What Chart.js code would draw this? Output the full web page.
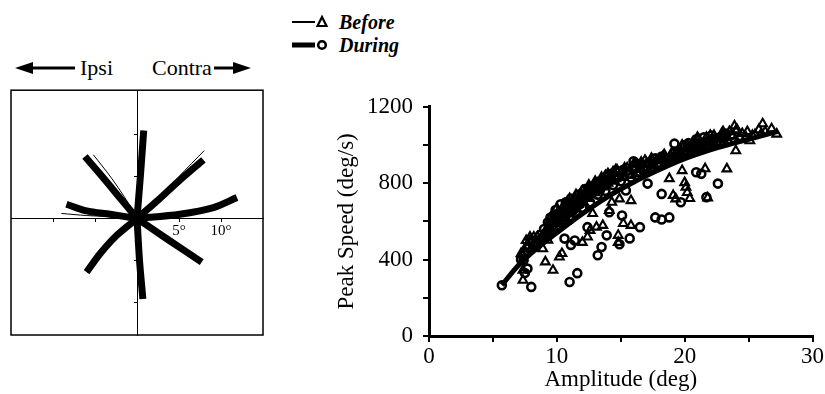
<!DOCTYPE html>
<html>
<head>
<meta charset="utf-8">
<script src="https://cdn.jsdelivr.net/npm/chart.js@4/dist/chart.umd.min.js"></script>
<style>
  body { margin: 0; background: #fff; width: 825px; height: 394px; position: relative; overflow: hidden;
         font-family: "Liberation Serif", "DejaVu Serif", serif; color: #000; }
  .abs { position: absolute; }
  .lbl { font-size: 22px; line-height: 22px; }
  .leg { font-size: 20px; line-height: 20px; font-weight: bold; font-style: italic; }
</style>
</head>
<body>

<!-- legend -->
<svg class="abs" style="left:288px;top:10px" width="50" height="46">
  <line x1="4" y1="12" x2="27" y2="12" stroke="#000" stroke-width="2"/>
  <polygon points="34,7 29.5,16 38.5,16" fill="none" stroke="#000" stroke-width="2.2"/>
  <line x1="4" y1="35" x2="27" y2="35" stroke="#000" stroke-width="5"/>
  <circle cx="34" cy="35" r="3.8" fill="none" stroke="#000" stroke-width="2.6"/>
</svg>
<div class="abs leg" style="left:339px;top:12px">Before</div>
<div class="abs leg" style="left:339px;top:35px">During</div>

<!-- Ipsi / Contra header -->
<svg class="abs" style="left:0;top:54px" width="260" height="30">
  <line x1="30" y1="14" x2="75" y2="14" stroke="#000" stroke-width="3"/>
  <polygon points="15,14 33,8 33,20" fill="#000"/>
  <line x1="214" y1="14" x2="236" y2="14" stroke="#000" stroke-width="3"/>
  <polygon points="251,14 233,8 233,20" fill="#000"/>
</svg>
<div class="abs lbl" style="left:80px;top:57px">Ipsi</div>
<div class="abs lbl" style="left:152px;top:57px">Contra</div>

<canvas id="trajChart" class="abs" style="left:0;top:80px" width="280" height="270"></canvas>
<canvas id="speedChart" class="abs" style="left:330px;top:83px" width="495" height="311"></canvas>

<script>
  "use strict";

  // =========================
  // Trajectories (degrees)
  // =========================
  const TRAJ_DURING = [
    { x: [0, 0.4, 0.8], y: [0, 5, 10.5] },
    { x: [0, 0.3, 0.7], y: [0, -5, -9.6] },
    { x: [0, -2.4, -4.4, -6.2], y: [0, 2.9, 5.3, 7.4] },
    { x: [0, 2.3, 4.9, 7.9], y: [0, 2.0, 4.4, 7.0] },
    { x: [0, -3.2, -6.0, -8.4], y: [0, 0.5, 0.9, 1.7] },
    { x: [0, 5.1, 9.1, 11.9], y: [0, 0.5, 1.3, 2.5] },
    { x: [0, -2.4, -4.4, -6.0], y: [0, -2.0, -4.2, -6.4] },
    { x: [0, 3.8, 7.7], y: [0, -2.6, -5.2] },
  ];
  const TRAJ_BEFORE = [
    { x: [0, 0.3, 0.6], y: [0, 5, 10.3] },
    { x: [0, 0.2, 0.5], y: [0, -5, -9.5] },
    { x: [0, -1.2, -3.1, -5.2], y: [0, 2.1, 4.9, 7.6] },
    { x: [0, 2.5, 5.0, 8.0], y: [0, 2.3, 5.0, 8.1] },
    { x: [0, -2.8, -6.0, -9.0], y: [0, 0.2, 0.35, 0.6] },
    { x: [0, 5.0, 9.0, 11.8], y: [0, 0.4, 1.2, 2.4] },
    { x: [0, -2.3, -4.3, -5.9], y: [0, -2.1, -4.3, -6.5] },
    { x: [0, 3.8, 7.6], y: [0, -2.6, -5.1] },
  ];
  const TRAJ_TICKS = [-10, -5, 5, 10];

  // =========================
  // Peak speed vs amplitude
  // =========================
  const beforeAmp = [
    7.3, 7.6, 7.9, 8.2, 8.5, 8.8, 9.1, 9.3, 9.6, 9.8, 10.0, 10.2, 10.4, 10.6, 10.8, 11.0,
    11.2, 11.4, 11.6, 11.8, 12.0, 12.3, 12.6, 12.9, 13.2, 13.5, 13.8, 14.1, 14.4, 14.7,
    15.0, 15.3, 15.7, 16.1, 16.5, 16.9, 17.4, 17.9, 18.4, 18.9, 19.4, 19.9, 20.2, 20.5,
    20.8, 21.1, 21.4, 21.7, 22.0, 22.3, 22.6, 22.9, 23.2, 23.5, 23.8, 24.1, 24.5, 24.9,
    25.3, 25.8, 26.3, 26.8,
    8.0, 8.6, 9.0, 9.4, 9.8, 10.1, 10.3, 10.5, 10.7, 10.9, 11.1, 11.3, 11.5, 11.7, 11.9,
    12.1, 12.4, 12.7, 13.0, 13.3, 13.7, 14.0, 14.5, 15.2, 15.8, 16.3, 17.0, 17.6, 18.1,
    18.6, 19.1, 19.6, 20.0, 20.3, 20.6, 20.9, 21.2, 21.5, 21.9, 22.2, 22.5, 23.0, 23.4,
    24.3, 24.8, 25.5, 26.0,
    9.5, 10.0, 10.6, 11.0, 11.5, 12.0, 12.5, 13.0, 13.5, 14.0, 14.6, 15.5, 16.0, 16.6,
    17.2, 17.8, 18.3, 19.0, 19.8, 21.0, 22.0, 23.0, 24.0,
    7.35, 7.35, 7.2, 7.9, 7.6, 9.1, 9.7, 10.2, 10.4, 8.9, 9.3, 12.0, 12.6, 12.8, 13.1,
    13.6, 14.3, 14.9, 15.8, 15.2, 15.8, 14.8, 14.8, 17.4, 18.05, 18.8, 19.1, 19.3, 19.8,
    20.0, 20.1, 20.2, 20.4, 21.6, 21.8, 23.3, 23.9, 26.1, 27.2, 24.0, 25.1, 23.0, 12.4,
    14.1, 8.2,
  ];
  const beforeSpeed = [
    430, 470, 500, 480, 520, 510, 550, 560, 600, 590, 640, 620, 660, 680, 650, 700,
    690, 720, 700, 740, 730, 760, 770, 790, 800, 810, 840, 830, 860, 870,
    850, 880, 860, 900, 880, 920, 930, 900, 950, 930, 960, 990, 1000, 980,
    1010, 1030, 1000, 1040, 1020, 1050, 1030, 1060, 1040, 1070, 1050, 1080, 1060, 1070,
    1050, 1080, 1070, 1085,
    460, 500, 520, 540, 570, 590, 600, 630, 620, 650, 660, 680, 670, 690, 710,
    700, 720, 740, 750, 770, 780, 800, 810, 830, 840, 850, 870, 880, 900,
    910, 930, 950, 960, 950, 975, 990, 990, 1010, 1000, 1020, 1010, 1030, 1020,
    1040, 1040, 1055, 1060,
    620, 670, 690, 720, 740, 760, 790, 810, 830, 850, 870, 880, 900, 910,
    900, 920, 940, 960, 1000, 1040, 1050, 1070, 1075,
    292, 344, 431, 518, 500, 388, 344, 414, 432, 457, 501, 490, 553, 641, 570,
    579, 700, 718, 709, 589, 579, 527, 490, 927, 928, 824, 736, 718, 866,
    803, 779, 751, 720, 876, 723, 875, 1100, 1111, 1057, 970, 1022, 1058, 518,
    657, 518,
  ];
  const duringAmp = [
    7.2, 7.5, 7.8, 8.1, 8.4, 8.7, 9.0, 9.3, 9.5, 9.7, 9.9, 10.1, 10.3, 10.5, 10.7, 10.9,
    11.1, 11.3, 11.5, 11.7, 11.9, 12.2, 12.5, 12.8, 13.1, 13.4, 13.7, 14.0, 14.3, 14.6,
    14.9, 15.2, 15.6, 16.0, 16.4, 16.8, 17.2, 17.7, 18.2, 18.7, 19.2, 19.7, 20.0, 20.3,
    20.6, 20.9, 21.2, 21.5, 21.8, 22.1, 22.4, 22.8, 23.2, 23.6,
    8.3, 8.9, 9.2, 9.6, 9.8, 10.0, 10.2, 10.4, 10.6, 10.8, 11.0, 11.2, 11.4, 11.6, 11.8,
    12.0, 12.3, 12.6, 12.9, 13.2, 13.6, 14.2, 14.8, 15.4, 16.2, 17.0, 17.5, 18.0, 18.5,
    19.0, 19.5, 20.1, 20.4, 20.7, 21.0, 21.4, 21.7, 22.0, 22.6, 23.0,
    9.0, 9.4, 10.0, 10.5, 11.0, 11.5, 12.0, 12.6, 13.2, 13.8, 14.4, 15.0, 15.8, 16.5,
    17.4, 18.4, 19.4, 20.5, 21.3, 22.2,
    5.7, 8.0, 7.5, 11.0, 11.6, 9.3, 9.5, 7.7, 7.4, 13.2, 13.5, 13.9, 14.9, 15.1, 15.7,
    16.5, 14.1, 15.4, 17.1, 18.2, 19.7, 20.9, 21.3, 22.6, 21.7, 17.7, 18.2, 18.8, 19.2,
    16.0, 10.6, 11.4, 11.1, 12.4,
  ];
  const duringSpeed = [
    400, 440, 460, 500, 490, 530, 560, 540, 620, 600, 660, 610, 690, 650, 700, 670,
    720, 660, 700, 740, 710, 770, 750, 780, 800, 770, 820, 810, 850, 840,
    860, 870, 850, 890, 900, 870, 910, 930, 940, 920, 960, 950, 990, 1010,
    1000, 1030, 1010, 1040, 1020, 1050, 1030, 1040, 1060, 1050,
    470, 510, 540, 570, 630, 600, 640, 620, 670, 640, 690, 650, 690, 720, 690,
    740, 730, 780, 760, 790, 790, 820, 830, 860, 880, 890, 900, 900, 930,
    940, 960, 970, 990, 980, 990, 1010, 1000, 1030, 1020, 1040,
    520, 580, 560, 600, 610, 640, 670, 700, 740, 760, 790, 810, 830, 860,
    880, 910, 950, 975, 1000, 1010,
    266, 257, 330, 283, 329, 595, 590, 353, 396, 423, 466, 527, 480, 631, 511,
    570, 648, 762, 798, 744, 700, 857, 849, 798, 727, 621, 610, 621, 1007,
    915, 510, 500, 477, 570,
  ];

  // fitted main-sequence curves
  const beforeFitAmp = [7.2, 8.5, 10, 12, 14, 16, 18, 20, 22, 24, 26, 27.3];
  const beforeFitSpeed = [400, 480, 555, 650, 738, 812, 875, 932, 978, 1016, 1050, 1075];
  const duringFitAmp = [5.7, 7.0, 8.5, 10, 12, 14, 16, 18, 20, 22, 24, 26, 27.3];
  const duringFitSpeed = [266, 370, 462, 540, 640, 730, 805, 870, 928, 975, 1012, 1048, 1072];

  const X_TICKS = [0, 10, 20, 30];
  const Y_TICKS = [0, 400, 800, 1200];

  const toPoints = (xs, ys) => xs.map((x, i) => ({ x, y: ys[i] }));
  const FONT = '"Liberation Serif", "DejaVu Serif", serif';

  // ---------- trajectory panel ----------
  const boxPlugin = {
    id: "box",
    afterDraw(chart) {
      const { ctx, chartArea: a } = chart;
      ctx.save();
      ctx.strokeStyle = "#000";
      ctx.lineWidth = 1.5;
      ctx.strokeRect(a.left, a.top, a.right - a.left, a.bottom - a.top);
      ctx.restore();
    },
  };

  const trajDatasets = [];
  TRAJ_DURING.forEach((t) => {
    trajDatasets.push({
      data: toPoints(t.x, t.y), showLine: true, borderColor: "#000",
      borderWidth: 7, pointRadius: 0, tension: 0.3, borderCapStyle: "butt",
    });
  });
  TRAJ_BEFORE.forEach((t) => {
    trajDatasets.push({
      data: toPoints(t.x, t.y), showLine: true, borderColor: "#000",
      borderWidth: 1, pointRadius: 0, tension: 0.3,
    });
  });

  new Chart(document.getElementById("trajChart"), {
    type: "scatter",
    data: { datasets: trajDatasets },
    options: {
      responsive: false,
      animation: false,
      devicePixelRatio: 1,
      layout: { padding: { left: 11, top: 9, right: 17, bottom: 15 } },
      plugins: { legend: { display: false }, tooltip: { enabled: false } },
      scales: {
        x: {
          type: "linear", min: -15, max: 15, position: { y: 0 },
          afterBuildTicks: (s) => { s.ticks = TRAJ_TICKS.map((v) => ({ value: v })); },
          border: { display: true, color: "#000", width: 1 },
          grid: { drawOnChartArea: false, color: "#000", tickLength: 3 },
          ticks: {
            color: "#000", padding: 1, maxRotation: 0,
            font: { family: FONT, size: 15 },
            callback: (v) => (v > 0 ? v + "°" : ""),
          },
        },
        y: {
          type: "linear", min: -13.9, max: 15.3, position: { x: 0 },
          afterBuildTicks: (s) => { s.ticks = TRAJ_TICKS.map((v) => ({ value: v })); },
          border: { display: true, color: "#000", width: 1 },
          grid: { drawOnChartArea: false, color: "#000", tickLength: 3 },
          ticks: { callback: () => "" },
        },
      },
    },
    plugins: [boxPlugin],
  });

  // ---------- peak speed panel ----------
  new Chart(document.getElementById("speedChart"), {
    type: "scatter",
    data: {
      datasets: [
        {
          label: "During fit", data: toPoints(duringFitAmp, duringFitSpeed),
          showLine: true, borderColor: "#000", borderWidth: 5, pointRadius: 0, tension: 0.4,
        },
        {
          label: "Before fit", data: toPoints(beforeFitAmp, beforeFitSpeed),
          showLine: true, borderColor: "#000", borderWidth: 1.5, pointRadius: 0, tension: 0.4,
        },
        {
          label: "During", data: toPoints(duringAmp, duringSpeed),
          pointStyle: "circle", pointRadius: 4, borderWidth: 2.6,
          borderColor: "#000", backgroundColor: "rgba(255,255,255,0)",
        },
        {
          label: "Before", data: toPoints(beforeAmp, beforeSpeed),
          pointStyle: "triangle", pointRadius: 5, borderWidth: 2.1,
          borderColor: "#000", backgroundColor: "rgba(255,255,255,0)",
        },
      ],
    },
    options: {
      responsive: false,
      animation: false,
      devicePixelRatio: 1,
      layout: { padding: { top: 9, right: 12 } },
      plugins: { legend: { display: false }, tooltip: { enabled: false } },
      scales: {
        x: {
          type: "linear", min: 0, max: 30,
          afterBuildTicks: (s) => { s.ticks = [0, 5, 10, 15, 20, 25, 30].map((v) => ({ value: v })); },
          afterFit: (s) => { s.height = 58; },
          border: { display: true, color: "#000", width: 3 },
          grid: { drawOnChartArea: false, color: "#000", lineWidth: 2, tickLength: 6 },
          ticks: {
            color: "#000", padding: 1, maxRotation: 0,
            font: { family: FONT, size: 23 },
            callback: (v) => (X_TICKS.includes(v) ? String(v) : ""),
          },
          title: {
            display: true, text: "Amplitude (deg)", color: "#000",
            font: { family: FONT, size: 23 }, padding: { top: 0, bottom: 0 },
          },
        },
        y: {
          type: "linear", min: 0, max: 1200,
          afterBuildTicks: (s) => { s.ticks = [0, 200, 400, 600, 800, 1000, 1200].map((v) => ({ value: v })); },
          afterFit: (s) => { s.width = 99; },
          border: { display: true, color: "#000", width: 3 },
          grid: { drawOnChartArea: false, color: "#000", lineWidth: 2, tickLength: 6 },
          ticks: {
            color: "#000", padding: 10,
            font: { family: FONT, size: 23 },
            callback: (v) => (Y_TICKS.includes(v) ? String(v) : ""),
          },
          title: {
            display: true, text: "Peak Speed (deg/s)", color: "#000",
            font: { family: FONT, size: 23 }, padding: { top: 3, bottom: 0 },
          },
        },
      },
    },
  });
</script>
</body>
</html>
